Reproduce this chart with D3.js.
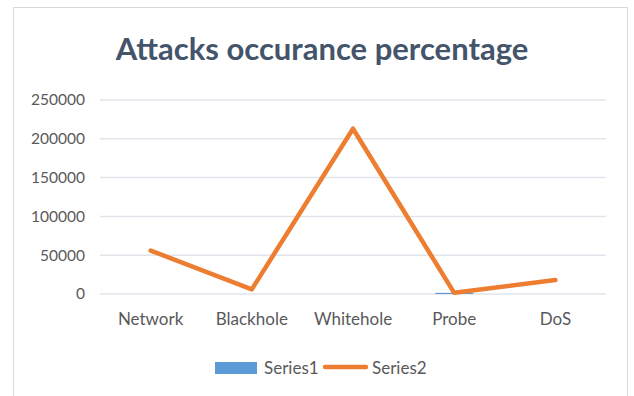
<!DOCTYPE html>
<html>
<head>
<meta charset="utf-8">
<script src="https://cdn.jsdelivr.net/npm/d3@7"></script>
<style>
  body { margin: 0; background: #fff; }
  text { font-family: Lato, "Open Sans", sans-serif; }
</style>
</head>
<body>
<div id="chart"></div>
<script>
var categories = ['Network', 'Blackhole', 'Whitehole', 'Probe', 'DoS'];
var series1 = [0, 0, 0, 1500, 0];
var series2 = [56000, 6000, 213000, 1500, 18000];
var yTicks = [0, 50000, 100000, 150000, 200000, 250000];

var width = 634, height = 396;
var margin = {top: 100, right: 28, bottom: 102, left: 100};

var svg = d3.select('#chart').append('svg')
  .attr('width', width)
  .attr('height', height);

// chart frame
svg.append('rect')
  .attr('x', 13.5).attr('y', 7.5)
  .attr('width', 614).attr('height', 400)
  .attr('fill', '#fff')
  .attr('stroke', '#d9d9d9');

svg.append('text')
  .attr('x', 322).attr('y', 60)
  .attr('text-anchor', 'middle')
  .attr('font-size', 31)
  .attr('font-weight', 'bold')
  .attr('fill', '#44546a')
  .text('Attacks occurance percentage');

var x = d3.scaleBand()
  .domain(categories)
  .range([margin.left, width - margin.right]);

var y = d3.scaleLinear()
  .domain([0, 250000])
  .range([294, 100]);

var g = svg.append('g');

// gridlines
g.selectAll('.grid')
  .data(yTicks)
  .join('line')
  .attr('x1', x.range()[0]).attr('x2', x.range()[1])
  .attr('y1', function(d) { return y(d); })
  .attr('y2', function(d) { return y(d); })
  .attr('stroke', '#e1e5eb')
  .attr('stroke-width', 1.5);

// y axis labels
var yAxis = d3.axisLeft(y).tickValues(yTicks).tickSize(0).tickPadding(15).tickFormat(d3.format('d'));
svg.append('g')
  .attr('transform', 'translate(' + margin.left + ',0)')
  .call(yAxis)
  .call(function(s) { s.select('.domain').remove(); })
  .selectAll('text')
  .attr('font-size', 15.5)
  .attr('fill', '#595959')
  .style('font-family', 'Lato, "Open Sans", sans-serif');

// x axis labels
var xAxis = d3.axisBottom(x).tickSize(0).tickPadding(19);
svg.append('g')
  .attr('transform', 'translate(0,' + y(0) + ')')
  .call(xAxis)
  .call(function(s) { s.select('.domain').remove(); })
  .selectAll('text')
  .attr('font-size', 17)
  .attr('fill', '#595959')
  .style('font-family', 'Lato, "Open Sans", sans-serif');

// series1 bars
var barW = 38;
g.selectAll('.bar')
  .data(series1)
  .join('rect')
  .attr('x', function(d, i) { return x(categories[i]) + x.bandwidth() / 2 - barW / 2; })
  .attr('y', function(d) { return y(d); })
  .attr('width', barW)
  .attr('height', function(d) { return y(0) - y(d); })
  .attr('fill', '#5b9bd5');

// series2 line
var line = d3.line()
  .x(function(d, i) { return x(categories[i]) + x.bandwidth() / 2; })
  .y(function(d) { return y(d); });

g.append('path')
  .datum(series2)
  .attr('d', line)
  .attr('fill', 'none')
  .attr('stroke', '#ed7d31')
  .attr('stroke-width', 4.5)
  .attr('stroke-linecap', 'round')
  .attr('stroke-linejoin', 'round');

// legend
var leg = svg.append('g');
leg.append('rect')
  .attr('x', 215).attr('y', 362)
  .attr('width', 42).attr('height', 12)
  .attr('fill', '#5b9bd5');
leg.append('text')
  .attr('x', 264).attr('y', 374)
  .attr('font-size', 17).attr('fill', '#595959')
  .text('Series1');
leg.append('line')
  .attr('x1', 325).attr('x2', 366)
  .attr('y1', 367).attr('y2', 367)
  .attr('stroke', '#ed7d31')
  .attr('stroke-width', 4.5)
  .attr('stroke-linecap', 'round');
leg.append('text')
  .attr('x', 372).attr('y', 374)
  .attr('font-size', 17).attr('fill', '#595959')
  .text('Series2');
</script>
</body>
</html>
